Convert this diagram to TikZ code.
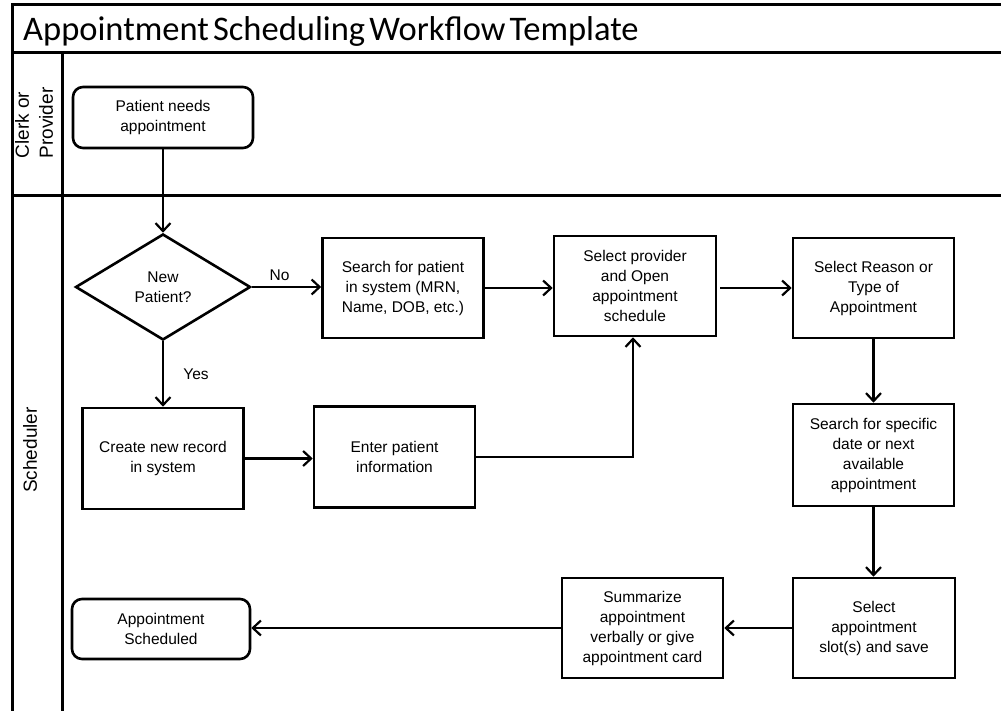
\documentclass[tikz,border=0pt]{standalone}
\usepackage{fontspec}
\setmainfont{Liberation Sans}
\newfontfamily\titlefont{Carlito}
\usetikzlibrary{arrows.meta,shapes.geometric}

\begin{document}
\begin{tikzpicture}[x=1pt,y=-1pt,
  frame/.style={line width=3pt, line cap=rect},
  txt/.style={font=\fontsize{15.5}{20}\selectfont},
  box/.style={txt, draw, line width=2.6pt, rectangle, align=center, inner sep=2pt,
    minimum width=161pt, minimum height=100pt},
  term/.style={box, rounded corners=10pt, minimum width=180pt, minimum height=61pt},
  decision/.style={txt, draw, line width=2.6pt, diamond, aspect=1.65, align=center,
    inner sep=0pt, minimum width=175pt, minimum height=106pt},
  flow/.style={line width=2.2pt, -{Straight Barb[length=8pt,width=15pt]}},
  lane/.style={rotate=90, align=left, font=\fontsize{19}{24}\selectfont}
]
\useasboundingbox (0,0) rectangle (1001,711);

% swimlane frame
\draw[frame] (1001,5) -- (12,5) -- (12,711);
\draw[frame] (12,53) -- (1001,53);
\draw[frame] (12,196) -- (1001,196);
\draw[frame] (62,53) -- (62,711);

\node[anchor=base west, inner sep=0pt,
  font=\titlefont\fontsize{34.5}{38}\selectfont] (title) at (23,41)
  {\spaceskip=0.12em plus 0.05em\relax Appointment Scheduling Workflow Template};

\node[lane] (laneA) at (34,123) {Clerk or\\Provider};
\node[lane] (laneB) at (30,450) {Scheduler};

% process steps
\node[term] (start) at (163,117.5) {Patient needs\\appointment};
\node[decision] (dec) at (163,287) {New\\Patient?};
\node[box] (search) at (403,288) {Search for patient\\in system (MRN,\\Name, DOB, etc.)};
\node[box, minimum width=162pt] (provider) at (635,286) {Select provider\\and Open\\appointment\\schedule};
\node[box] (reason) at (873.5,288) {Select Reason or\\Type of\\Appointment};
\node[box, minimum height=101pt] (create) at (163,458.5) {Create new record\\in system};
\node[box, minimum height=101pt] (enter) at (394.5,457) {Enter patient\\information};
\node[box, minimum height=102pt] (specific) at (873.5,455) {Search for specific\\date or next\\available\\appointment};
\node[box, minimum width=162pt] (slot) at (874,628) {Select\\appointment\\slot(s) and save};
\node[box] (summ) at (642.5,628) {Summarize\\appointment\\verbally or give\\appointment card};
\node[term, minimum width=178pt, minimum height=60pt] (end) at (161,629) {Appointment\\Scheduled};

% connectors
\draw[flow] (start.south) -- (dec.north);
\draw[flow] (dec.east) -- node[txt, pos=0.4, above=2pt] (no) {No} (dec.east -| search.west);
\draw[flow] (dec.south) -- node[txt, right=16pt] (yes) {Yes} (create.north);
\draw[flow] (search.east) -- (search.east -| provider.west);
\draw[flow] ([xshift=3pt]provider.east |- reason.west) -- (reason.west);
\draw[flow] (create.east) -- (create.east -| enter.west);
\draw[flow] (enter.east) -| ([xshift=-2pt]provider.south);
\draw[flow] (reason.south) -- (specific.north);
\draw[flow] (specific.south) -- (specific.south |- slot.north);
\draw[flow] (slot.west) -- (summ.east);
\draw[flow] (summ.west) -- (summ.west -| end.east);
\end{tikzpicture}
\end{document}
